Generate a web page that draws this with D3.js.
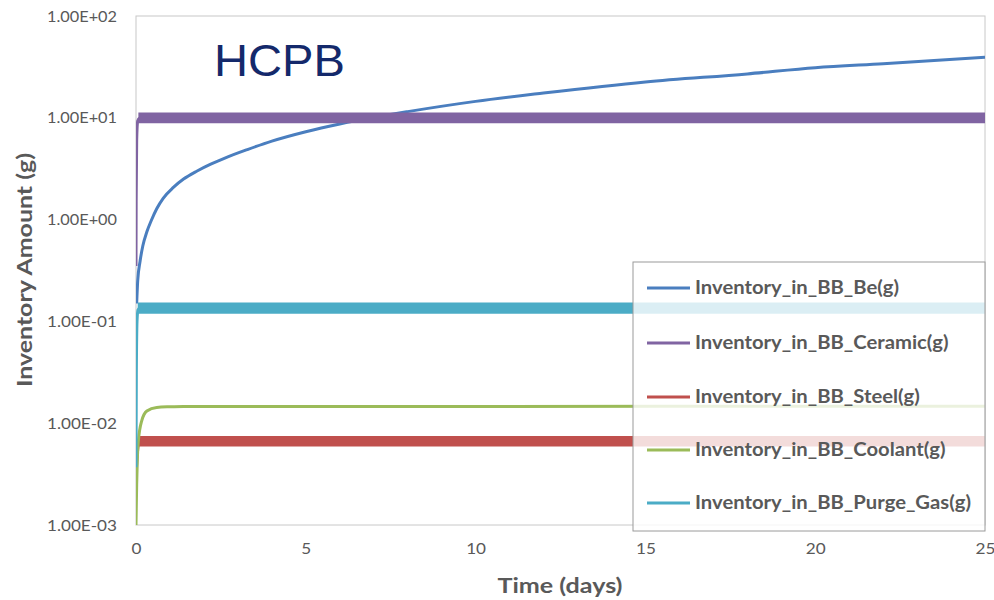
<!DOCTYPE html>
<html lang="en">
<head>
<meta charset="UTF-8">
<title>HCPB inventory</title>
<script src="https://d3js.org/d3.v7.min.js"></script>
<style>
  body { margin: 0; background: #fff; }
  text { font-family: Lato, "Open Sans", sans-serif; }
</style>
</head>
<body>
<svg id="chart"></svg>
<script>
// ---- data ----
const seriesNames = ["Inventory_in_BB_Be(g)", "Inventory_in_BB_Ceramic(g)", "Inventory_in_BB_Steel(g)",
                     "Inventory_in_BB_Coolant(g)", "Inventory_in_BB_Purge_Gas(g)"];
const seriesColors = ["#4a7ebf", "#8064a2", "#c0504d", "#9bbb59", "#4bacc6"];

const beDays = [0.02, 0.05, 0.12, 0.2, 0.32, 0.45, 0.61, 0.8, 1.1, 1.4, 1.8, 2.2, 2.6, 3.3, 4, 5, 6, 7, 8, 10, 12, 15, 18, 20, 22, 25];
const beVals = [0.15, 0.25, 0.39, 0.55, 0.76, 0.98, 1.28, 1.62, 2.07, 2.5, 3.0, 3.5, 4.0, 4.9, 5.9, 7.3, 8.7, 10.1, 11.5, 14.5, 17.5, 22.5, 27, 31, 34, 39.3];

const ceramicDays = [0, 0.005, 0.02, 0.05, 0.1, 0.2, 25];
const ceramicVals = [0.35, 1.5, 6, 9.3, 9.9, 10, 10];

const steelDays = [0, 0.02, 0.05, 0.08, 0.15, 25];
const steelVals = [0.003, 0.004, 0.0055, 0.0065, 0.0067, 0.0067];

const coolantDays = [0, 0.02, 0.04, 0.07, 0.17, 0.32, 0.61, 1.0, 1.4, 2, 25];
const coolantVals = [0.001, 0.0025, 0.0045, 0.0067, 0.0106, 0.0132, 0.0143, 0.0145, 0.0146, 0.0146, 0.0147];

const purgeDays = [0, 0.01, 0.03, 0.06, 0.1, 25];
const purgeVals = [0.0037, 0.03, 0.1, 0.13, 0.135, 0.135];

// oscillation bands (min / max of the fast oscillation on the plateau)
const bandSeries = [1, 2, 4];
const bandStart = [0.07, 0.08, 0.05];
const bandLow = [8.85, 0.0059, 0.119];
const bandHigh = [11.3, 0.0075, 0.153];

const xTicks = [0, 5, 10, 15, 20, 25];
const yTicks = [1e-3, 1e-2, 1e-1, 1e0, 1e1, 1e2];
const yTickLabels = ["1.00E-03", "1.00E-02", "1.00E-01", "1.00E+00", "1.00E+01", "1.00E+02"];

const allDays = [beDays, ceramicDays, steelDays, coolantDays, purgeDays];
const allVals = [beVals, ceramicVals, steelVals, coolantVals, purgeVals];

// ---- layout ----
const width = 994, height = 600;
const pLeft = 136, pRight = 985, pTop = 16, pBottom = 525;
const textGray = "#595959";

const svg = d3.select("#chart").attr("width", width).attr("height", height);

const x = d3.scaleLinear().domain([0, 25]).range([pLeft, pRight]);
const y = d3.scaleLog().domain([1e-3, 1e2]).range([pBottom, pTop]);

// squeeze / widen text to the widths measured on the picture
function fit(sel, target) {
  sel.each(function () {
    this.setAttribute("textLength", target);
    this.setAttribute("lengthAdjust", "spacingAndGlyphs");
  });
}
function stretch(sel, sx) {
  sel.each(function () {
    const w = this.getComputedTextLength();
    this.setAttribute("textLength", w * sx);
    this.setAttribute("lengthAdjust", "spacingAndGlyphs");
  });
}

svg.append("clipPath").attr("id", "plot")
  .append("rect").attr("x", pLeft).attr("y", pTop).attr("width", pRight - pLeft).attr("height", pBottom - pTop);

// plot border
svg.append("rect")
  .attr("x", pLeft).attr("y", pTop).attr("width", pRight - pLeft).attr("height", pBottom - pTop)
  .attr("fill", "none").attr("stroke", "#c8c8c8").attr("stroke-width", 1);

// axes
const yAxis = svg.append("g")
  .attr("transform", `translate(${pLeft},0)`)
  .call(d3.axisLeft(y).tickValues(yTicks).tickSize(0).tickPadding(19)
        .tickFormat((d, i) => yTickLabels[i]));
yAxis.select(".domain").remove();
yAxis.selectAll("text").attr("font-size", 16).attr("fill", textGray)
  .style("font-family", "Lato");
const tmp = yAxis.select("text").node();
const tickSx = 70 / tmp.getComputedTextLength();
fit(yAxis.selectAll("text"), 70);

const xAxis = svg.append("g")
  .attr("transform", `translate(0,${pBottom})`)
  .call(d3.axisBottom(x).tickValues(xTicks).tickSize(0).tickPadding(18));
xAxis.select(".domain").remove();
xAxis.selectAll("text").attr("font-size", 16).attr("fill", textGray)
  .style("font-family", "Lato");
stretch(xAxis.selectAll("text"), tickSx);

// axis titles
const xt = svg.append("text")
  .attr("x", (pLeft + pRight) / 2 - 0.5).attr("y", 593)
  .attr("text-anchor", "middle").attr("font-size", 21).attr("font-weight", "bold")
  .attr("fill", textGray).text("Time (days)");
fit(xt, 125);

const yt = svg.append("text")
  .attr("transform", "translate(32,270) rotate(-90)")
  .attr("text-anchor", "middle").attr("font-size", 21).attr("font-weight", "bold")
  .attr("fill", textGray).text("Inventory Amount (g)");
fit(yt, 234);

// series
const plot = svg.append("g").attr("clip-path", "url(#plot)");
const line = d3.line().x(d => x(d[0])).y(d => y(d[1])).curve(d3.curveMonotoneX);
const area = d3.area().x(d => x(d[0])).y0(d => y(d[1])).y1(d => y(d[2]));

seriesNames.forEach((name, i) => {
  const pts = allDays[i].map((d, j) => [d, allVals[i][j]]);
  plot.append("path")
    .datum(pts)
    .attr("d", line)
    .attr("fill", "none")
    .attr("stroke", seriesColors[i])
    .attr("stroke-width", 3)
    .attr("stroke-linejoin", "round");
  const b = bandSeries.indexOf(i);
  if (b >= 0) {
    const bd = [bandStart[b], 25];
    plot.append("path")
      .datum(bd.map(d => [d, bandLow[b], bandHigh[b]]))
      .attr("d", area)
      .attr("fill", seriesColors[i]);
  }
});

// title
const title = svg.append("text")
  .attr("x", 214).attr("y", 76)
  .attr("font-size", 44).style("font-family", "'Liberation Sans', Arial, sans-serif")
  .attr("fill", "#14296b").text("HCPB");
fit(title, 131);

// legend
const lg = svg.append("g");
lg.append("rect")
  .attr("x", 633).attr("y", 262).attr("width", 352).attr("height", 269)
  .attr("fill", "#fff").attr("fill-opacity", 0.8)
  .attr("stroke", "#9a9a9a").attr("stroke-width", 1);
const legendY = [288, 343, 397, 450, 503];
const items = lg.selectAll("g.item").data(seriesNames).join("g")
  .attr("class", "item")
  .attr("transform", (d, i) => `translate(0,${legendY[i]})`);
items.append("line")
  .attr("x1", 647).attr("x2", 690)
  .attr("stroke", (d, i) => seriesColors[i]).attr("stroke-width", 3);
const lt = items.append("text")
  .attr("x", 695).attr("dy", "0.36em")
  .attr("font-size", 18).attr("font-weight", "bold")
  .attr("fill", textGray).text(d => d);
const lastW = lt.filter((d, i) => i === 4).node().getComputedTextLength();
stretch(lt, 276 / lastW);
</script>
</body>
</html>
